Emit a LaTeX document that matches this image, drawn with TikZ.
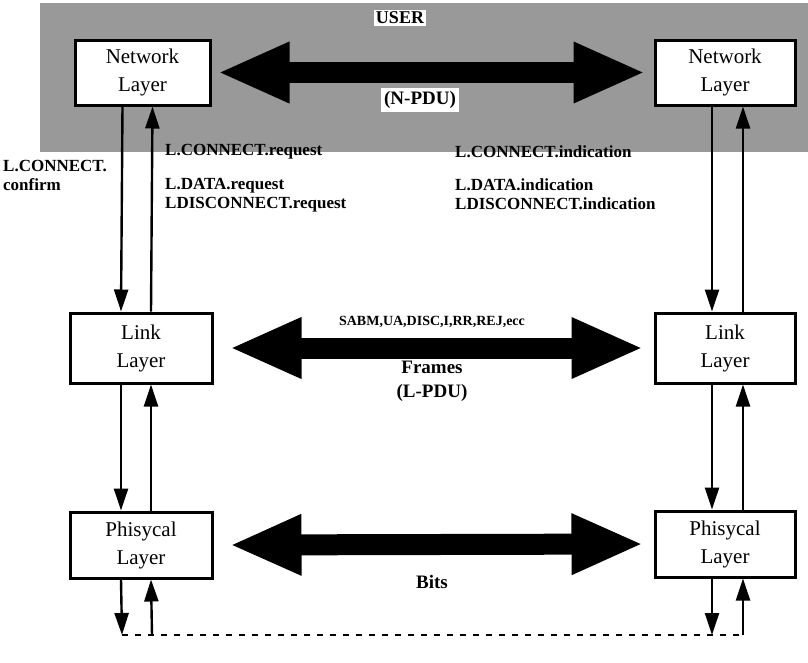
\documentclass[tikz,border=0pt]{standalone}
\usepackage{fontspec}
\setmainfont{Liberation Serif}
\usetikzlibrary{arrows.meta}

\tikzset{
  layerbox/.style={draw=black, line width=3pt, fill=white, inner sep=0pt,
    align=center, font=\fontsize{21}{28}\selectfont},
  primlabel/.style={inner sep=0pt, align=left,
    font=\fontsize{17}{19}\selectfont\bfseries},
  pdulabel/.style={inner sep=1pt, align=center,
    font=\fontsize{19}{24}\selectfont\bfseries},
  servarrow/.style={line width=2.4pt, -{Triangle[length=22pt,width=14pt]}},
  fatarrow/.style={line width=21pt,
    {Triangle[length=72pt,width=56pt]}-{Triangle[length=72pt,width=56pt]}},
  medium/.style={line width=2.2pt, dash pattern=on 6pt off 7pt},
}

\begin{document}
\begin{tikzpicture}[x=1pt,y=-1pt]
  \useasboundingbox (0,0) rectangle (808,662);

  % shaded user area
  \fill[black!40] (40,3) rectangle (808,152);
  \node[pdulabel, fill=white, inner sep=2pt, font=\fontsize{18}{20}\selectfont\bfseries] (user) at (400,18) {USER};

  % layer boxes
  \node[layerbox, minimum width=135pt, minimum height=65pt] (net1) at (142.5,72.5) {Network\\Layer};
  \node[layerbox, minimum width=140pt, minimum height=65pt] (net2) at (725,72.5) {Network\\Layer};
  \node[layerbox, minimum width=142pt, minimum height=70pt] (link1) at (141,348) {Link\\Layer};
  \node[layerbox, minimum width=140pt, minimum height=70pt] (link2) at (725,348) {Link\\Layer};
  \node[layerbox, minimum width=142pt, minimum height=66pt] (phy1) at (141,545) {Phisycal\\Layer};
  \node[layerbox, minimum width=140pt, minimum height=66pt] (phy2) at (725,544) {Phisycal\\Layer};

  % peer-to-peer exchanges
  \draw[fatarrow] ([xshift=6pt]net1.east) -- ([xshift=-8pt]net2.west);
  \node[pdulabel, fill=white, inner sep=3pt] (npdu) at (420,100) {(N-PDU)};

  \draw[fatarrow] ([xshift=16pt]link1.east) -- ([xshift=-10pt]link2.west);
  \node[primlabel, font=\fontsize{14}{16}\selectfont\bfseries] (frtypes) at (432,322) {SABM,UA,DISC,I,RR,REJ,ecc};
  \node[pdulabel] (frames) at (432,381) {Frames\\(L-PDU)};

  \draw[fatarrow] ([xshift=16pt]phy1.east) -- ([xshift=-10pt]phy2.west);
  \node[pdulabel] (bits) at (432,582) {Bits};

  % service primitives, left side
  \draw[servarrow] ([xshift=-20pt]net1.south) -- ([xshift=-20pt]link1.north);
  \draw[servarrow] ([xshift=10pt]link1.north) -- ([xshift=10pt]net1.south);
  \draw[servarrow] ([xshift=-20pt]link1.south) -- ([xshift=-20pt]phy1.north);
  \draw[servarrow] ([xshift=10pt]phy1.north) -- ([xshift=10pt]link1.south);

  % service primitives, right side
  \draw[servarrow] ([xshift=-13pt]net2.south) -- ([xshift=-13pt]link2.north);
  \draw[servarrow] ([xshift=18pt]link2.north) -- ([xshift=18pt]net2.south);
  \draw[servarrow] ([xshift=-13pt]link2.south) -- ([xshift=-13pt]phy2.north);
  \draw[servarrow] ([xshift=18pt]phy2.north) -- ([xshift=18pt]link2.south);

  % physical medium
  \coordinate (m1) at (122,635);
  \coordinate (m2) at (152,635);
  \coordinate (m3) at (712,635);
  \coordinate (m4) at (743,635);
  \draw[servarrow] ([xshift=-20pt]phy1.south) -- (m1);
  \draw[servarrow] (m2) -- ([xshift=10pt]phy1.south);
  \draw[servarrow] ([xshift=-13pt]phy2.south) -- (m3);
  \draw[servarrow] (m4) -- ([xshift=18pt]phy2.south);
  \draw[medium] (m1) -- (m4);

  % primitive names
  \node[primlabel, anchor=north west] (confirm) at (3,160) {L.CONNECT.\\confirm};
  \node[primlabel, anchor=west] (creq) at (165,152) {L.CONNECT.request};
  \node[primlabel, anchor=north west] (dreq) at (165,178) {L.DATA.request\\LDISCONNECT.request};
  \node[primlabel, anchor=west] (cind) at (455,152) {L.CONNECT.indication};
  \node[primlabel, anchor=north west] (dind) at (455,178) {L.DATA.indication\\LDISCONNECT.indication};
\end{tikzpicture}
\end{document}
